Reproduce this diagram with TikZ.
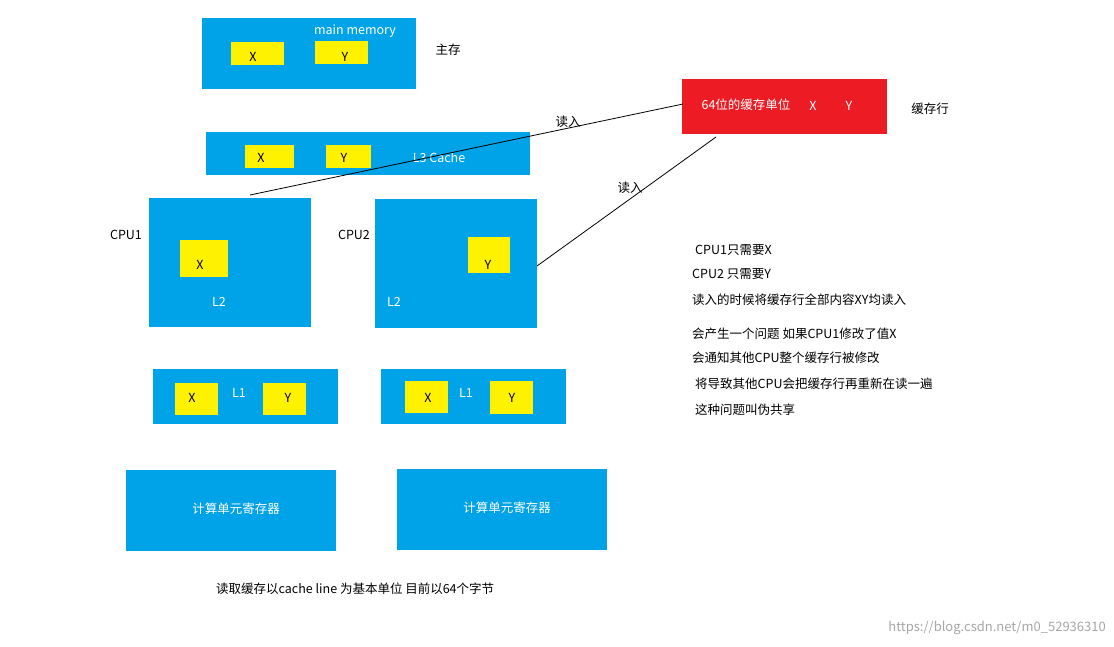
\documentclass[tikz,border=0pt]{standalone}
\usepackage{fontspec}
\setmainfont{Noto Sans CJK SC}
\definecolor{blu}{HTML}{00A2E8}
\definecolor{yel}{HTML}{FFF200}
\definecolor{rd}{HTML}{ED1C24}
\begin{document}
\begin{tikzpicture}[x=1pt,y=-1pt,
  bx/.style={fill=blu,draw=none},
  yb/.style={fill=yel,draw=none},
  wt/.style={text=white,inner sep=0pt},
  bt/.style={text=black,inner sep=0pt},
  every node/.style={font=\fontsize{12.5}{15}\selectfont}]
\useasboundingbox (0,0) rectangle (1114,646);
% main memory
\path[bx] (202,18) rectangle (416,89);
\path[yb] (231,42) rectangle (284,65);
\path[yb] (315,41) rectangle (368,64);
\node[bt] (mx) at (253,57) {X};
\node[bt] (my) at (345,57) {Y};
\node[wt] (mm) at (355,31) {main memory};
\node[bt] (zc) at (448,50) {主存};
% red
\node[fill=rd,minimum width=205,minimum height=55,inner sep=0pt] (red) at (784.5,106.5) {};
\node[wt] (rt) at (746,105) {64位的缓存单位};
\node[wt] (rx) at (813,106) {X};
\node[wt] (ry) at (849,106) {Y};
\node[bt] (hc) at (930,109) {缓存行};
% L3
\path[bx] (206,132) rectangle (530,175);
\path[yb] (245,145) rectangle (294,168);
\path[yb] (326,145) rectangle (371,168);
\node[bt] (lx) at (261,158) {X};
\node[bt] (ly) at (344,158) {Y};
\node[wt] (l3) at (439,158) {L3 Cache};
% CPU1
\node[fill=blu,minimum width=162,minimum height=129,inner sep=0pt] (c1) at (230,262.5) {};
\path[yb] (180,240) rectangle (228,277);
\node[bt] at (200,265) {X};
\node[wt] at (219,302) {L2};
\node[bt] at (126,235) {CPU1};
% CPU2
\node[fill=blu,minimum width=162,minimum height=129,inner sep=0pt] (c2) at (456,263.5) {};
\path[yb] (468,237) rectangle (510,273);
\node[bt] at (488,265) {Y};
\node[wt] at (394,302) {L2};
\node[bt] at (354,235) {CPU2};
% lines
\coordinate (a1) at (250,195);
\coordinate (b1) at (683,104);
\coordinate (a2) at (716,137);
\coordinate (b2) at (537,266);
\draw[black,line width=0.8pt] (a1) -- (b1);
\draw[black,line width=0.8pt] (a2) -- (b2);
\node[bt] at (568,122) {读入};
\node[bt] at (630,188) {读入};
% L1
\path[bx] (153,369) rectangle (338,424);
\path[yb] (175,383) rectangle (218,415);
\path[yb] (263,383) rectangle (306,415);
\node[bt] at (192,398) {X};
\node[wt] at (239,393) {L1};
\node[bt] at (288,398) {Y};
\path[bx] (381,369) rectangle (566,424);
\path[yb] (405,381) rectangle (448,413);
\path[yb] (490,381) rectangle (533,414);
\node[bt] at (428,398) {X};
\node[wt] at (466,393) {L1};
\node[bt] at (512,398) {Y};
% compute
\path[bx] (126,470) rectangle (336,551);
\node[wt] at (236,509) {计算单元寄存器};
\path[bx] (397,469) rectangle (607,550);
\node[wt] at (507,508) {计算单元寄存器};
% right text
\node[bt,anchor=west] at (695,250) {CPU1只需要X};
\node[bt,anchor=west] at (692,274) {CPU2 只需要Y};
\node[bt,anchor=west] at (692,300) {读入的时候将缓存行全部内容XY均读入};
\node[bt,anchor=west] at (692,334) {会产生一个问题 如果CPU1修改了值X};
\node[bt,anchor=west] at (692,358) {会通知其他CPU整个缓存行被修改};
\node[bt,anchor=west] at (695,384) {将导致其他CPU会把缓存行再重新在读一遍};
\node[bt,anchor=west] at (695,410) {这种问题叫伪共享};
\node[bt,anchor=west] at (216,589) {读取缓存以cache line 为基本单位 目前以64个字节};
\node[text=black!35,inner sep=0pt,anchor=east,font=\fontsize{13}{15}\selectfont] at (1106,628) {https://blog.csdn.net/m0\_52936310};
\end{tikzpicture}
\end{document}
